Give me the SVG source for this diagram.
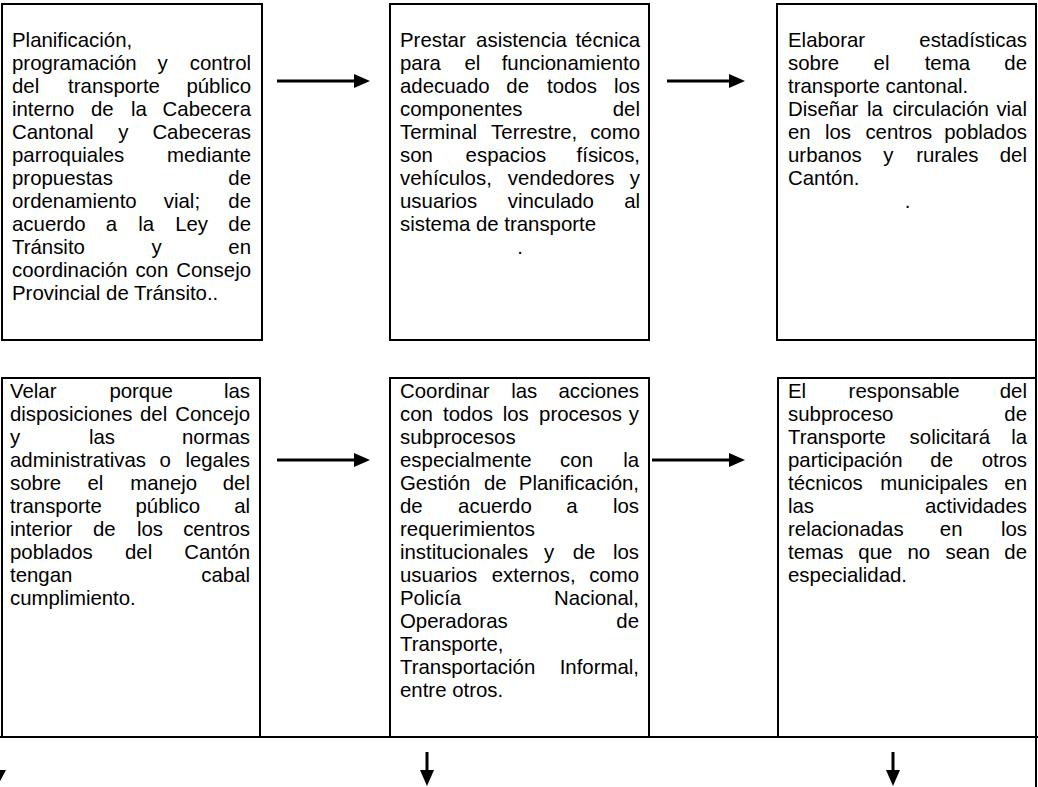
<svg xmlns="http://www.w3.org/2000/svg" width="1038" height="787" viewBox="0 0 1038 787">
<style>
.box{fill:#fff;stroke:#000;stroke-width:2}
.ln{stroke:#000;stroke-width:2;fill:none}
.ar{stroke:#000;stroke-width:3;fill:none;marker-end:url(#ah)}
text{font-family:"Liberation Sans",Arial,sans-serif;font-size:20.4px;fill:#000}
.e{text-anchor:end}
.m{text-anchor:middle}
</style>
<defs>
<marker id="ah" markerUnits="userSpaceOnUse" markerWidth="16" markerHeight="14" viewBox="0 0 16 14" refX="4" refY="7" orient="auto">
<path d="M0,0 L16,7 L0,14 z" fill="#000"/>
</marker>
</defs>

<g id="node1">
<rect class="box" x="2" y="4" width="260" height="336"/>
<text x="12" y="47">Planificación,</text>
<text y="70"><tspan x="12">programación</tspan><tspan x="157.6">y</tspan><tspan x="251" class="e">control</tspan></text>
<text y="93"><tspan x="12">del</tspan><tspan x="68.1">transporte</tspan><tspan x="251" class="e">público</tspan></text>
<text y="116"><tspan x="12">interno</tspan><tspan x="90.9">de</tspan><tspan x="130.9">la</tspan><tspan x="251" class="e">Cabecera</tspan></text>
<text y="139"><tspan x="12">Cantonal</tspan><tspan x="118.2">y</tspan><tspan x="251" class="e">Cabeceras</tspan></text>
<text y="162"><tspan x="12">parroquiales</tspan><tspan x="251" class="e">mediante</tspan></text>
<text y="185"><tspan x="12">propuestas</tspan><tspan x="251" class="e">de</tspan></text>
<text y="208"><tspan x="12">ordenamiento</tspan><tspan x="163.8">vial;</tspan><tspan x="251" class="e">de</tspan></text>
<text y="231"><tspan x="12">acuerdo</tspan><tspan x="105.7">a</tspan><tspan x="138.2">la</tspan><tspan x="175.2">Ley</tspan><tspan x="251" class="e">de</tspan></text>
<text y="254"><tspan x="12">Tránsito</tspan><tspan x="151.5">y</tspan><tspan x="251" class="e">en</tspan></text>
<text y="277"><tspan x="12">coordinación</tspan><tspan x="135.4">con</tspan><tspan x="251" class="e">Consejo</tspan></text>
<text x="12" y="300">Provincial de Tránsito..</text>
</g>

<g id="node2">
<rect class="box" x="390" y="4" width="259" height="336"/>
<text y="47"><tspan x="400">Prestar</tspan><tspan x="476.1">asistencia</tspan><tspan x="640" class="e">técnica</tspan></text>
<text y="70"><tspan x="400">para</tspan><tspan x="464.4">el</tspan><tspan x="640" class="e">funcionamiento</tspan></text>
<text y="93"><tspan x="400">adecuado</tspan><tspan x="506.3">de</tspan><tspan x="547">todos</tspan><tspan x="640" class="e">los</tspan></text>
<text y="116"><tspan x="400">componentes</tspan><tspan x="640" class="e">del</tspan></text>
<text y="139"><tspan x="400">Terminal</tspan><tspan x="491.1">Terrestre,</tspan><tspan x="640" class="e">como</tspan></text>
<text y="162"><tspan x="400">son</tspan><tspan x="465.6">espacios</tspan><tspan x="640" class="e">físicos,</tspan></text>
<text y="185"><tspan x="400">vehículos,</tspan><tspan x="507.8">vendedores</tspan><tspan x="640" class="e">y</tspan></text>
<text y="208"><tspan x="400">usuarios</tspan><tspan x="507.8">vinculado</tspan><tspan x="640" class="e">al</tspan></text>
<text x="400" y="231">sistema de transporte</text>
<text x="520" y="254" class="m">.</text>
</g>

<g id="node3">
<rect class="box" x="777" y="4" width="259" height="336"/>
<text y="47"><tspan x="788">Elaborar</tspan><tspan x="1027" class="e">estadísticas</tspan></text>
<text y="70"><tspan x="788">sobre</tspan><tspan x="873.6">el</tspan><tspan x="924.7">tema</tspan><tspan x="1027" class="e">de</tspan></text>
<text x="788" y="93">transporte cantonal.</text>
<text y="116"><tspan x="788">Diseñar</tspan><tspan x="866.9">la</tspan><tspan x="892.5">circulación</tspan><tspan x="1027" class="e">vial</tspan></text>
<text y="139"><tspan x="788">en</tspan><tspan x="825">los</tspan><tspan x="865.4">centros</tspan><tspan x="1027" class="e">poblados</tspan></text>
<text y="162"><tspan x="788">urbanos</tspan><tspan x="883.3">y</tspan><tspan x="916.2">rurales</tspan><tspan x="1027" class="e">del</tspan></text>
<text x="788" y="185">Cantón.</text>
<text x="907.5" y="208" class="m">.</text>
</g>

<g id="node4">
<rect class="box" x="2" y="378" width="258" height="359"/>
<text y="398"><tspan x="10">Velar</tspan><tspan x="109.4">porque</tspan><tspan x="250" class="e">las</tspan></text>
<text y="421"><tspan x="10">disposiciones</tspan><tspan x="140">del</tspan><tspan x="250" class="e">Concejo</tspan></text>
<text y="444"><tspan x="10">y</tspan><tspan x="88.9">las</tspan><tspan x="250" class="e">normas</tspan></text>
<text y="467"><tspan x="10">administrativas</tspan><tspan x="159.5">o</tspan><tspan x="250" class="e">legales</tspan></text>
<text y="490"><tspan x="10">sobre</tspan><tspan x="87.4">el</tspan><tspan x="130.3">manejo</tspan><tspan x="250" class="e">del</tspan></text>
<text y="513"><tspan x="10">transporte</tspan><tspan x="135.5">público</tspan><tspan x="250" class="e">al</tspan></text>
<text y="536"><tspan x="10">interior</tspan><tspan x="92.9">de</tspan><tspan x="136.9">los</tspan><tspan x="250" class="e">centros</tspan></text>
<text y="559"><tspan x="10">poblados</tspan><tspan x="125">del</tspan><tspan x="250" class="e">Cantón</tspan></text>
<text y="582"><tspan x="10">tengan</tspan><tspan x="250" class="e">cabal</tspan></text>
<text x="10" y="605">cumplimiento.</text>
</g>

<g id="node5">
<rect class="box" x="390" y="378" width="259" height="359"/>
<text y="398"><tspan x="400">Coordinar</tspan><tspan x="511.2">las</tspan><tspan x="639" class="e">acciones</tspan></text>
<text y="421"><tspan x="400">con</tspan><tspan x="443">todos</tspan><tspan x="502.7">los</tspan><tspan x="539.1">procesos</tspan><tspan x="639" class="e">y</tspan></text>
<text x="400" y="444">subprocesos</text>
<text y="467"><tspan x="400">especialmente</tspan><tspan x="560.1">con</tspan><tspan x="639" class="e">la</tspan></text>
<text y="490"><tspan x="400">Gestión</tspan><tspan x="484">de</tspan><tspan x="639" class="e">Planificación,</tspan></text>
<text y="513"><tspan x="400">de</tspan><tspan x="458.1">acuerdo</tspan><tspan x="566.3">a</tspan><tspan x="639" class="e">los</tspan></text>
<text x="400" y="536">requerimientos</text>
<text y="559"><tspan x="400">institucionales</tspan><tspan x="544.1">y</tspan><tspan x="572.7">de</tspan><tspan x="639" class="e">los</tspan></text>
<text y="582"><tspan x="400">usuarios</tspan><tspan x="491.7">externos,</tspan><tspan x="639" class="e">como</tspan></text>
<text y="605"><tspan x="400">Policía</tspan><tspan x="639" class="e">Nacional,</tspan></text>
<text y="628"><tspan x="400">Operadoras</tspan><tspan x="639" class="e">de</tspan></text>
<text x="400" y="651">Transporte,</text>
<text y="674"><tspan x="400">Transportación</tspan><tspan x="639" class="e">Informal,</tspan></text>
<text x="400" y="697">entre otros.</text>
</g>

<g id="node6">
<rect class="box" x="778" y="378" width="258" height="359"/>
<text y="398"><tspan x="788">El</tspan><tspan x="848.6">responsable</tspan><tspan x="1027" class="e">del</tspan></text>
<text y="421"><tspan x="788">subproceso</tspan><tspan x="1027" class="e">de</tspan></text>
<text y="444"><tspan x="788">Transporte</tspan><tspan x="909.6">solicitará</tspan><tspan x="1027" class="e">la</tspan></text>
<text y="467"><tspan x="788">participación</tspan><tspan x="930.3">de</tspan><tspan x="1027" class="e">otros</tspan></text>
<text y="490"><tspan x="788">técnicos</tspan><tspan x="880.3">municipales</tspan><tspan x="1027" class="e">en</tspan></text>
<text y="513"><tspan x="788">las</tspan><tspan x="1027" class="e">actividades</tspan></text>
<text y="536"><tspan x="788">relacionadas</tspan><tspan x="939.8">en</tspan><tspan x="1027" class="e">los</tspan></text>
<text y="559"><tspan x="788">temas</tspan><tspan x="858.3">que</tspan><tspan x="907.5">no</tspan><tspan x="945.5">sean</tspan><tspan x="1027" class="e">de</tspan></text>
<text x="788" y="582">especialidad.</text>
</g>

<g id="connectors">
<line class="ln" x1="1036" y1="4" x2="1036" y2="787"/>
<line class="ln" x1="0" y1="737" x2="1038" y2="737"/>
<line class="ar" x1="277" y1="81" x2="358" y2="81"/>
<line class="ar" x1="667" y1="81" x2="733" y2="81"/>
<line class="ar" x1="277" y1="460" x2="358" y2="460"/>
<line class="ar" x1="652" y1="460" x2="733" y2="460"/>
<line class="ar" x1="427" y1="752" x2="427" y2="774"/>
<line class="ar" x1="893" y1="752" x2="893" y2="774"/>
<polygon points="-10,770 6,770 -2,785" fill="#000"/>
</g>
</svg>
